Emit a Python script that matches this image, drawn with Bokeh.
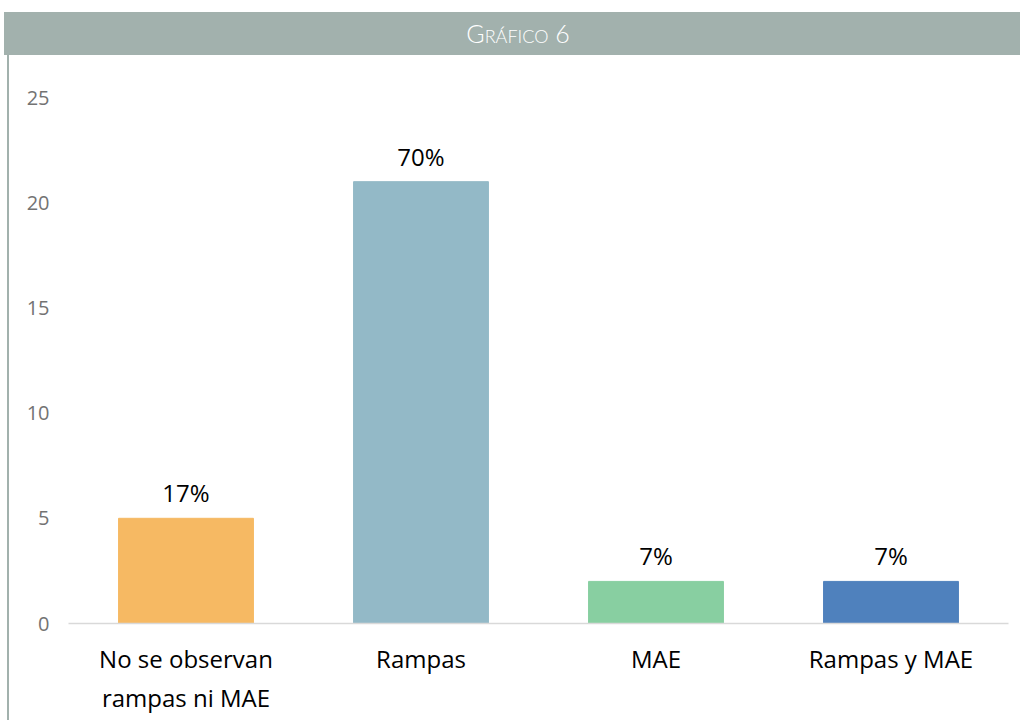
from bokeh.plotting import figure
from bokeh.models import ColumnDataSource, FactorRange, Range1d, FixedTicker, Div
from bokeh.layouts import column, row
from bokeh.core.properties import value
from bokeh.embed import file_html
from bokeh.resources import INLINE

categories = ["No se observan\nrampas ni MAE", "Rampas", "MAE", "Rampas y MAE"]
counts = [5, 21, 2, 2]
pct_labels = ["17%", "70%", "7%", "7%"]
colors = ["#F6B963", "#93B9C7", "#88CFA1", "#4F81BD"]
y_ticks = [0, 5, 10, 15, 20, 25]
header_text = "Gráfico 6"

FONT = "Open Sans"
FRAME_COLOR = "#A2B1AD"

src = ColumnDataSource(dict(cat=categories, val=counts, lab=pct_labels, col=colors))

p = figure(width=1011, height=665, output_backend="svg", toolbar_location=None,
           x_range=FactorRange(*categories, range_padding=0), y_range=Range1d(0, 25),
           min_border_left=59, min_border_right=12, min_border_top=42, min_border_bottom=97,
           margin=(0, 0, 0, 0))
p.outline_line_color = None
p.xgrid.grid_line_color = None
p.ygrid.grid_line_color = None
p.background_fill_color = "white"
p.border_fill_color = "white"

p.vbar(x="cat", top="val", width=0.574, color="col", source=src)
p.text(x="cat", y="val", text="lab", source=src, text_align="center", text_baseline="bottom",
       y_offset=-9, text_font=value(FONT), text_font_size="24px", text_color="#000000")

p.yaxis.ticker = FixedTicker(ticks=y_ticks)
p.yaxis.axis_line_color = None
p.yaxis.major_tick_line_color = None
p.yaxis.minor_tick_line_color = None
p.yaxis.major_label_text_font = FONT
p.yaxis.major_label_text_font_size = "20px"
p.yaxis.major_label_text_color = "#737373"
p.yaxis.major_label_standoff = 13

p.xaxis.axis_line_color = "#D9D9D9"
p.xaxis.axis_line_width = 1.5
p.xaxis.major_tick_line_color = None
p.xaxis.minor_tick_line_color = None
p.xaxis.major_label_text_font = FONT
p.xaxis.major_label_text_font_size = "24px"
p.xaxis.major_label_text_color = "#000000"
p.xaxis.major_label_standoff = 12

header = Div(text=header_text, width=1016, height=43, margin=(12, 0, 0, 4),
             styles={"background-color": FRAME_COLOR, "color": "white",
                     "font-family": "Lato, 'Open Sans', sans-serif", "font-variant": "small-caps",
                     "font-size": "25px", "font-weight": "300", "text-align": "center",
                     "line-height": "43px", "width": "1016px", "height": "43px",
                     "padding-left": "12px", "box-sizing": "border-box"})
left_line = Div(text="", width=2, height=665, margin=(0, 0, 0, 7),
                styles={"background-color": FRAME_COLOR, "width": "2px", "height": "665px"})

layout = column(header, row(left_line, p, spacing=0), spacing=0)

open("out.html", "w").write(file_html(layout, INLINE))
